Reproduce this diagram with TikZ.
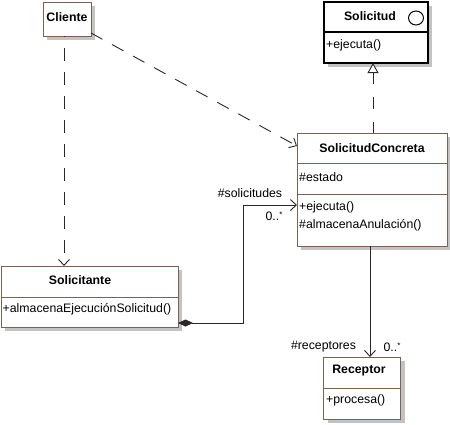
\documentclass[tikz,border=0pt]{standalone}
\usepackage{fontspec}
\setmainfont{Liberation Sans}
\usetikzlibrary{arrows.meta,shadows,calc}
\definecolor{boxbrown}{RGB}{125,98,80}
\definecolor{shadowgray}{RGB}{195,195,195}
\definecolor{linegray}{RGB}{40,40,40}
\begin{document}
\begin{tikzpicture}[x=1pt,y=-1pt,
  font=\fontsize{12.3}{14}\selectfont,
  umlbox/.style={draw=boxbrown, line width=0.9pt, fill=white, inner sep=0pt, outer sep=0pt,
    drop shadow={shadow xshift=4pt, shadow yshift=-4pt, fill=shadowgray, opacity=1}},
  ifacebox/.style={umlbox, draw=black, line width=1.1pt},
  divider/.style={draw=boxbrown, line width=0.9pt},
  title/.style={font=\fontsize{12.3}{14}\selectfont\bfseries, inner sep=0pt},
  member/.style={anchor=west, inner sep=0pt},
  lbl/.style={inner sep=0pt},
  opentip/.tip={Straight Barb[length=6pt,width=11pt,line width=0.9pt]},
  dep/.style={draw=linegray, line width=0.9pt, dash pattern=on 13pt off 11pt, -{opentip}},
  real/.style={draw=linegray, line width=0.9pt, dash pattern=on 12pt off 13pt, -{Triangle[open,length=10pt,width=11pt,fill=white]}},
  assoc/.style={draw=linegray, line width=0.9pt, -{opentip}},
  comp/.style={draw=linegray, line width=0.9pt, {Diamond[length=15pt,width=7pt]}-{opentip}}
]
\useasboundingbox (0,0) rectangle (450,424);
\fill[white] (0,0) rectangle (450,424);

% Cliente
\node[umlbox, minimum width=48pt, minimum height=34pt] (cliente) at (67,19) {};
\node[title] (clienteT) at (67,17) {Cliente};

% Solicitud (interface)
\node[ifacebox, minimum width=104pt, minimum height=61pt] (solicitud) at (376,32.5) {};
\draw[line width=1.1pt] (solicitud.west |- 0,32) -- (solicitud.east |- 0,32);
\node[title] (solicitudT) at (370,16) {Solicitud};
\draw[line width=1pt] (416,18) ellipse[x radius=7.5pt, y radius=7pt];
\node[member] (solicitudM) at (326,45) {+ejecuta()};

% SolicitudConcreta
\node[umlbox, minimum width=150pt, minimum height=113pt] (sc) at (372,189.5) {};
\draw[divider] (sc.west |- 0,163) -- (sc.east |- 0,163);
\draw[divider] (sc.west |- 0,194) -- (sc.east |- 0,194);
\node[title] (scT) at (372,148) {SolicitudConcreta};
\node[member] (scA) at (299,177) {\#estado};
\node[member] (scM1) at (299,207.5) {+ejecuta()};
\node[member] (scM2) at (299,225) {\#almacenaAnulación()};

% Solicitante
\node[umlbox, minimum width=177pt, minimum height=61pt] (solicitante) at (89.5,296.5) {};
\draw[divider] (solicitante.west |- 0,297) -- (solicitante.east |- 0,297);
\node[title] (solicitanteT) at (80,280) {Solicitante};
\node[member] (solicitanteM) at (2.5,309.5) {+almacenaEjecuciónSolicitud()};

% Receptor
\node[umlbox, minimum width=77pt, minimum height=62pt] (receptor) at (362,388) {};
\draw[divider] (receptor.west |- 0,388) -- (receptor.east |- 0,388);
\node[title] (receptorT) at (359,371) {Receptor};
\node[member] (receptorM) at (326,400.5) {+procesa()};

% Cliente -> SolicitudConcreta
\coordinate (c1) at ($(cliente.south east)+(0,-3)$);
\coordinate (c2) at ($(sc.north west)+(0,13)$);
\draw[dep] (c1) -- (c2);

% Cliente -> Solicitante
\coordinate (c3) at ($(cliente.south)+(-3,0)$);
\coordinate (c4) at (c3 |- solicitante.north);
\draw[dep, dash phase=12pt] (c3) -- (c4);

% SolicitudConcreta realizes Solicitud
\coordinate (r1) at ($(sc.north)+(1,0)$);
\coordinate (r2) at (r1 |- solicitud.south);
\draw[real, dash phase=1pt] (r1) -- (r2);

% Composition Solicitante -> SolicitudConcreta
\coordinate (k1) at ($(solicitante.south east)+(0,-4)$);
\coordinate (k2) at (243,205);
\coordinate (k3) at (sc.west |- k2);
\draw[comp] (k1) -| (k2) -- (k3);
\node[lbl] (solLbl) at (250,193) {\#solicitudes};
\node[lbl] (solMult) at (274,216) {0..\raisebox{0.5ex}{\fontsize{8}{9}\selectfont *}};

% SolicitudConcreta -> Receptor
\coordinate (a1) at ($(sc.south)+(-2,0)$);
\coordinate (a2) at (a1 |- receptor.north);
\draw[assoc] (a1) -- (a2);
\node[lbl] (recLbl) at (323.5,347) {\#receptores};
\node[lbl] (recMult) at (392,347) {0..\raisebox{0.5ex}{\fontsize{8}{9}\selectfont *}};
\end{tikzpicture}
\end{document}
